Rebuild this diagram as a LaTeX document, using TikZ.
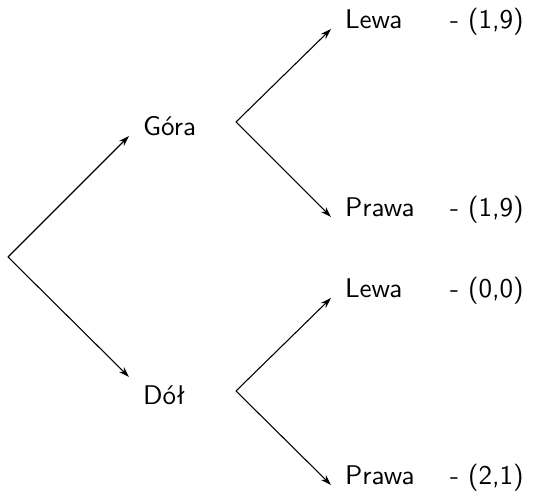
\documentclass[tikz,border=0pt]{standalone}
\usepackage{fontspec}
\usetikzlibrary{arrows.meta}

\begin{document}
\begin{tikzpicture}[x=0.37pt, y=-0.37pt]
	\tikzstyle{every node}=[font=\sffamily, inner xsep=5pt, inner ysep=3pt]
	\tikzstyle{branch}=[line width=0.4pt, -{Stealth[length=4pt, width=2.6pt]}]
	\useasboundingbox (0, 0) rectangle (533, 494);

	// root and forks
	\coordinate (Root) at (8, 257);
	\coordinate (Gora_Fork) at (236, 122);
	\coordinate (Dol_Fork) at (236, 391);

	// first move
	\node[anchor=base west](Gora) at (129, 136) {Góra};
	\node[anchor=north west](Dol) at (129, 377) {Dół};

	// second move after gora
	\node[anchor=base west](Gora_Lewa) at (331, 29) {Lewa};
	\node[anchor=base west](Gora_Prawa) at (331, 217) {Prawa};

	// second move after dol
	\node[anchor=base west](Dol_Lewa) at (331, 298) {Lewa};
	\node[anchor=base west](Dol_Prawa) at (331, 485) {Prawa};

	// payoffs
	\node[anchor=base west](Pay_GL) at (436, 29) {- (1,9)};
	\node[anchor=base west](Pay_GP) at (436, 217) {- (1,9)};
	\node[anchor=base west](Pay_DL) at (436, 298) {- (0,0)};
	\node[anchor=base west](Pay_DP) at (436, 485) {- (2,1)};

	// lines
	\draw[branch](Root)--(Gora.base west);
	\draw[branch](Root)--(Dol.north west);
	\draw[branch](Gora_Fork)--(Gora_Lewa.base west);
	\draw[branch](Gora_Fork)--(Gora_Prawa.base west);
	\draw[branch](Dol_Fork)--(Dol_Lewa.base west);
	\draw[branch](Dol_Fork)--(Dol_Prawa.base west);
\end{tikzpicture}
\end{document}
